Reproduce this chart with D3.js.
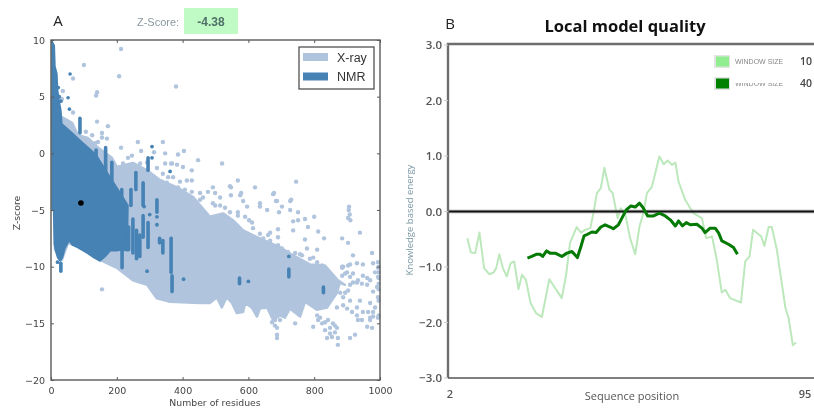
<!DOCTYPE html>
<html><head><meta charset="utf-8">
<script src="https://cdn.jsdelivr.net/npm/d3@7"></script>
<style>html,body{margin:0;padding:0;background:#fff;overflow:hidden}svg{display:block;filter:blur(.5px)}</style>
</head><body><svg id="c" width="814" height="409"></svg>
<script>
// Panel A: dense regions (residues, z-score)
const xrayTopN=[3,6,21,64,82,112,143,185,200,249,292,331,383,432,483,523,553,584,626,666,696,736,787,833,872,893];
const xrayTopZ=[4.9,4.7,3.4,2.7,1.6,1.35,.5,-.4,-1.2,-.85,-1.5,-2.35,-3,-3.85,-5.6,-5.3,-5.9,-6.8,-7.4,-7.9,-8.3,-9,-9.8,-9.9,-11.2,-11.6];
const xrayBotN=[12,33,52,88,149,200,249,292,322,362,453,483,504,519,534,550,565,584,590,610,626,635,657,675,696,711,726,757,772,808,839,869,878,893];
const xrayBotZ=[-8.5,-9.4,-7.9,-8.3,-9.4,-10.1,-11.2,-11.6,-12.8,-13.1,-13.2,-13.2,-12.7,-13.6,-12.7,-13.2,-14.1,-14,-13.2,-13.6,-14.4,-13.7,-13.6,-14.7,-14.3,-14.5,-13.7,-14.4,-13.1,-13.8,-13.6,-12.3,-11.4,-11.6];
const nmrTopN=[3,10,12,18,20,25,30,33,64,94,125,143,173,204,234];
const nmrTopZ=[9.9,9.5,7.7,7,5.6,4.6,3.8,2.6,1.8,1,.2,-.4,-1.8,-3.2,-4.6];
const nmrBotN=[3,8,10,14,20,28,35,42,55,65,80,110,130,149,165,180,200,214,232];
const nmrBotZ=[-5,-5,-8,-8.6,-9.2,-9.5,-9.2,-8.4,-7.7,-8.1,-8.3,-8.8,-9.2,-9.5,-9.1,-8.6,-8.6,-8.5,-8.6];
// Panel A: separate X-ray points
const xrayN=[213,100,67,207,380,140,137,36,33,67,140,173,106,125,155,155,170,143,134,264,213,274,340,313,347,404,386,447,292,347,365,520,368,383,401,428,371,413,428,386,492,568,544,620,745,675,727,575,477,462,514,584,635,687,547,678,547,578,684,730,702,727,751,751,772,800,906,903,635,657,693,596,568,602,529,499,736,781,690,736,812,830,939,885,903,772,690,666,666,918,976,809,778,757,797,885,909,930,948,979,994,903,885,894,918,948,994,961,930,909,991,994,979,970,985,939,909,888,930,869,979,994,970,933,961,976,924,909,809,812,797,824,833,848,839,863,872,872,863,854,742,687,687,687,681,672,155,996,996,996,996,996,996,996,905,908,910,
219,234,246,195,271,322,340,356,352,392,407,428,453,453,499,492,514,544,568,590,611,614,635,645,660,666,690,702,720,742,763,787,809,824,
888,900,909,918,933,945,961,970,985,994,885,872,863,879,894,903,888,900,915,930,948,964,979,970,945,818,833,848,857,869,842,681,696];
const xrayZ=[9.2,7.8,6.6,6.8,5.9,5.4,5.1,5.5,4.8,3.6,2.8,2.4,1.9,1.6,1.8,1.4,1.3,1,.9,1,.5,.2,1,.1,0,.2,-.1,-.6,-.8,-.9,-.9,-.9,-.9,-1,-1.2,-1.5,-2.1,-2.4,-2.4,-3,-3,-2.4,-2.9,-3,-2.5,-3.6,-4.2,-3.7,-3.4,-3.9,-3.9,-4.2,-4.4,-4.2,-3,-3.5,-3.7,-3.5,-4.2,-4.1,-4.7,-5,-5.2,-5.9,-5.8,-5.6,-4.7,-5.7,-4.7,-5,-5.2,-4.7,-5.2,-5.9,-4.8,-4.6,-6,-6.5,-6.7,-6.8,-6.9,-7.5,-7,-7.5,-7.9,-7.6,-7.4,-7,-7.7,-9,-8.8,-8.5,-8.4,-8.9,-9.2,-10,-9.8,-9.7,-9.8,-9.7,-9.6,-9.9,-10.1,-10.6,-10.6,-10.8,-10.9,-11.6,-11.4,-11.6,-11.8,-12.7,-12.2,-13.2,-13.6,-13,-13,-12.7,-13.6,-13.6,-14.4,-14.5,-14.7,-14.7,-15.3,-15.4,-16,-16.3,-14.3,-14.7,-15.3,-15,-15.6,-15.9,-16.3,-15.8,-16.3,-16.9,-15.2,-16.2,-15,-15.4,-16,-16.3,-14.7,-14.9,-12,-10,-10.5,-11,-11.5,-12,-13,-14.3,-5,-5.4,-5.9,
-.9,-.4,-.2,-1.3,-.9,-1.3,-1.8,-2.1,-2.6,-2.5,-3.2,-3.4,-4.1,-3.5,-3.5,-4.4,-4.6,-5.2,-5.5,-5.6,-6.1,-6.6,-7.1,-7.5,-7.2,-7.9,-8.1,-8.4,-8.7,-8.8,-9,-9.3,-9.6,-9.9,
-10,-10.5,-10.9,-11.4,-11.2,-11.5,-11,-11.2,-10.5,-10.1,-10.8,-11.6,-12.1,-12.3,-12.3,-12.1,-13.4,-13.7,-14,-14.3,-14,-14,-14,-14.5,-14.7,-14.5,-14.9,-15.4,-15,-15.4,-14.7,-15.2,-14.7];
// Panel A: NMR vertical runs and separate points
const nmrColN=[88,137,166,185,215,258,243,280,295,322,280,295,236,249,260,270,216,330,340,365,368,723,828,573,30,52,56,58];
const nmrColTop=[3.1,.3,.5,-.8,-3.2,-1.7,-3.2,-2.6,-.4,-4.1,-5.5,-6.1,-6.5,-5.8,-6.8,-7.2,-8.3,-7.5,-7.7,-7.5,-10.8,-10.2,-11.8,-11,-9.7,4.9,3.9,7];
const nmrColBot=[1.8,-1,-2,-2.4,-4.6,-3.2,-4.6,-4.6,-1.5,-5.2,-7.4,-8.3,-8.5,-8.8,-9.3,-9.1,-10.1,-7.9,-8.8,-10.5,-12.2,-10.9,-12.3,-11.5,-10.4,4.9,3.9,7];
const nmrN=[292,403,600,723,20,362,307,307,300,322,322,283,22,25,30,15];
const nmrZ=[-10.4,-11.1,-11.3,-9.1,-9.6,-1.6,.6,-.4,-5.4,-5.6,-6.3,-4.7,5.8,5,4.6,6];
const markerN=[91], markerZ=[-4.38];
const xTicksA=[0,200,400,600,800,1000], yTicksA=[10,5,0,-5,-10,-15,-20];
const legendA=["X-ray","NMR"];
// Panel B
const w10Pos=[6.7,7.6,8.7,9.8,11,12.3,13.4,14.1,14.9,15.8,16.8,17.8,18.7,19.8,20.7,21.7,22.9,24.3,25.8,27.7,30.9,32,33,34.7,35.8,36.9,38.2,39,39.9,40.9,41.8,43.1,43.9,45.2,46,47.1,48.4,49.7,50.8,51.8,52.7,54,55.9,57,58,59.1,60,60.8,62.5,64.6,66.8,67.9,69.4,70.6,71.9,72.8,74,76.8,77.9,79,79.9,82,82.8,83.9,84.7,86,88.2,89,90.1,90.9];
const w10Val=[-.48,-.74,-.75,-.38,-1.02,-1.13,-1.1,-1.02,-.77,-1.02,-1.17,-.93,-.9,-1.4,-1.14,-1.23,-1.65,-1.83,-1.9,-1.22,-1.56,-1.14,-.57,-.28,-.38,-.33,-.3,-.03,.33,.42,.79,.39,.34,-.12,.06,-.03,-.48,-.77,-.27,-.03,.33,.45,.99,.85,.92,.84,.88,.54,.21,-.03,-.12,-.48,-.45,-.87,-1.46,-1.41,-1.56,-1.64,-.9,-.81,-.33,-.45,-.62,-.28,-.28,-.69,-1.74,-1.92,-2.41,-2.36];
const w40Pos=[22.1,23.2,24.5,25.3,26,27,27.9,29.2,30.9,32.2,33.5,34.9,35.8,36.6,37.5,38.6,39.7,40.9,42,43.3,44.1,45.4,46.3,47.4,48.6,49.7,50.8,51.8,52.9,54.4,55.9,57.4,58.7,60,60.8,61.8,62.8,63.8,65.5,66.8,67.6,68.9,70.2,71.1,71.9,73.6,74.9,75.9];
const w40Val=[-.84,-.81,-.77,-.77,-.81,-.71,-.75,-.75,-.81,-.75,-.72,-.83,-.63,-.44,-.41,-.37,-.38,-.28,-.24,-.28,-.31,-.24,-.12,.03,.1,.08,.15,.06,-.08,-.08,-.03,-.08,-.15,-.26,-.17,-.26,-.2,-.24,-.23,-.3,-.38,-.3,-.3,-.39,-.53,-.59,-.65,-.77];
const yTicksB=[3,2,1,0,-1,-2,-3], xTicksB=[2,95];
const legendB=[["WINDOW SIZE","10"],["WINDOW SIZE","40"]];

const XRAY="#b0c4de", NMR="#4682b4", AX="#5a5a5a", TXT="#444";
const svg=d3.select("#c");
const A=svg.append("g");
const xA=d3.scaleLinear().domain([0,1000]).range([51,380]);
const yA=d3.scaleLinear().domain([-20,10]).range([380,40]);
const pts=(ns,zs)=>ns.map((n,i)=>[n,zs[i]]);
const poly=d3.line().x(d=>xA(d[0])).y(d=>yA(d[1]));
const region=(tn,tz,bn,bz,col,sw)=>A.append("path")
  .attr("d",poly(pts(tn,tz).concat(pts(bn,bz).reverse()))+"Z")
  .attr("fill",col).attr("stroke",col).attr("stroke-width",sw).attr("stroke-linejoin","round");
region(xrayTopN,xrayTopZ,xrayBotN,xrayBotZ,XRAY,2.5);
A.selectAll(".xp").data(pts(xrayN,xrayZ)).join("circle").attr("cx",d=>xA(d[0])).attr("cy",d=>yA(d[1])).attr("r",2.2).attr("fill",XRAY);
region(nmrTopN,nmrTopZ,nmrBotN,nmrBotZ,NMR,1.5);
A.selectAll(".nc").data(nmrColN).join("line").attr("x1",d=>xA(d)).attr("x2",d=>xA(d))
  .attr("y1",(d,i)=>yA(nmrColTop[i])).attr("y2",(d,i)=>yA(nmrColBot[i]))
  .attr("stroke",NMR).attr("stroke-width",3.6).attr("stroke-linecap","round");
A.selectAll(".np").data(pts(nmrN,nmrZ)).join("circle").attr("cx",d=>xA(d[0])).attr("cy",d=>yA(d[1])).attr("r",1.9).attr("fill",NMR);
A.selectAll(".mk").data(pts(markerN,markerZ)).join("circle").attr("cx",d=>xA(d[0])).attr("cy",d=>yA(d[1])).attr("r",2.8).attr("fill","#000");
// Frame and ticks
const styleAxis=(g,fs)=>{g.select(".domain").remove();g.selectAll("text").attr("fill",TXT).attr("font-size",fs).attr("font-family","'DejaVu Sans',sans-serif");g.selectAll("line").attr("stroke",AX);};
const fmtA=d=>d<0?"\u2212"+Math.abs(d):String(d);
A.append("g").attr("transform","translate(0,380)").call(d3.axisBottom(xA).tickValues(xTicksA).tickFormat(fmtA).tickSize(-3).tickPadding(7)).call(styleAxis,9.5);
A.append("g").attr("transform","translate(51,0)").call(d3.axisLeft(yA).tickValues(yTicksA).tickFormat(fmtA).tickSize(-3).tickPadding(6)).call(styleAxis,9.5);
A.append("g").attr("transform","translate(0,40)").call(d3.axisTop(xA).tickValues(xTicksA).tickFormat("").tickSize(-3)).call(styleAxis,9.5);
A.append("g").attr("transform","translate(380,0)").call(d3.axisRight(yA).tickValues(yTicksA).tickFormat("").tickSize(-3)).call(styleAxis,9.5);
A.append("rect").attr("x",51).attr("y",40).attr("width",329).attr("height",340).attr("fill","none").attr("stroke",AX).attr("stroke-width",1.4);
// Legend
A.append("rect").attr("x",299).attr("y",47).attr("width",75).attr("height",42).attr("fill","#fff").attr("stroke","#444").attr("stroke-width",1.2);
legendA.forEach((t,i)=>{
  A.append("rect").attr("x",303).attr("y",53+i*19.5).attr("width",25).attr("height",8).attr("fill",i?NMR:XRAY);
  A.append("text").attr("x",337).attr("y",62+i*19).attr("font-size",12.5).attr("fill","#333").attr("font-family","'Liberation Sans',sans-serif").text(t);
});
const txt=(x,y,s,o={})=>svg.append("text").attr("x",x).attr("y",y).attr("text-anchor",o.a||"middle")
  .attr("font-size",o.fs||10).attr("fill",o.c||TXT).attr("font-family",o.f||"'DejaVu Sans',sans-serif")
  .attr("font-weight",o.w||"normal").attr("transform",o.r?`rotate(-90,${x},${y})`:null).text(s);
txt(215,406,"Number of residues",{fs:9.3});
txt(20,213,"Z-score",{fs:9.3,r:1});
txt(58,26,"A",{fs:15,c:"#222",f:"'Open Sans',sans-serif"});
txt(158,26,"Z-Score:",{fs:11,c:"#8a9aa0",f:"'Liberation Sans',sans-serif"});
svg.append("rect").attr("x",184).attr("y",8).attr("width",54).attr("height",26).attr("fill","#c0fac4");
txt(211,26,"-4.38",{fs:12,c:"#4f6f68",w:"bold",f:"'Liberation Sans',sans-serif"});

// Panel B
const B=svg.append("g");
const xB=d3.scaleLinear().domain([2,95]).range([449,812]);
const yB=d3.scaleLinear().domain([-3,3]).range([378,45]);
const line=d3.line().x(d=>xB(d[0])).y(d=>yB(d[1]));
B.append("path").attr("d",line(pts(w10Pos,w10Val))).attr("fill","none").attr("stroke","#bce8bc").attr("stroke-width",2).attr("stroke-linejoin","round");
const zero=yB(0);
B.append("line").attr("x1",448).attr("x2",814).attr("y1",zero).attr("y2",zero).attr("stroke","#999").attr("stroke-width",4).attr("opacity",.5);
B.append("line").attr("x1",448).attr("x2",814).attr("y1",zero).attr("y2",zero).attr("stroke","#111").attr("stroke-width",1.8);
B.append("path").attr("d",line(pts(w40Pos,w40Val))).attr("fill","none").attr("stroke","#047a04").attr("stroke-width",3).attr("stroke-linejoin","round");
B.append("path").attr("d",`M448,378V44H814`).attr("fill","none").attr("stroke","#6e6e6e").attr("stroke-width",2.4);
B.append("path").attr("d",`M448,378H814`).attr("fill","none").attr("stroke","#555").attr("stroke-width",1.4);
const fB="'Open Sans',sans-serif";
yTicksB.forEach(v=>{
  B.append("line").attr("x1",444).attr("x2",448).attr("y1",yB(v)).attr("y2",yB(v)).attr("stroke","#ccc");
  txt(442,yB(v)+4,d3.format(".1f")(v),{a:"end",fs:11.5,c:"#555",w:600,f:fB});
});
xTicksB.forEach(v=>txt(v==2?450:805,398,String(v),{fs:11,c:"#555",w:600,f:fB}));
txt(632,400,"Sequence position",{fs:11,c:"#555",f:fB});
txt(413,220,"Knowledge based energy",{fs:9.5,c:"#7c98a6",r:1,f:fB});
txt(450,29,"B",{fs:15,c:"#222",f:fB});
txt(625,32,"Local model quality",{fs:16.5,c:"#111",w:"bold",f:fB});
// Legend B
svg.append("defs").append("clipPath").attr("id","cut").append("rect").attr("x",730).attr("y",83).attr("width",70).attr("height",10);
legendB.forEach((r,i)=>{
  const y=61+i*22;
  B.append("rect").attr("x",714).attr("y",y-6).attr("width",16).attr("height",13).attr("fill","#e4e4e4");
  B.append("rect").attr("x",716).attr("y",y-4.5).attr("width",13).attr("height",10).attr("fill",i?"#008000":"#90ee90");
  const t=txt(735,y+2.5,r[0],{a:"start",fs:7,c:"#888",f:"'Liberation Sans',sans-serif"});
  if(i)t.attr("clip-path","url(#cut)");
  txt(800,y+4,r[1],{a:"start",fs:10.5,c:"#444",w:600,f:fB});
});
</script></body></html>
